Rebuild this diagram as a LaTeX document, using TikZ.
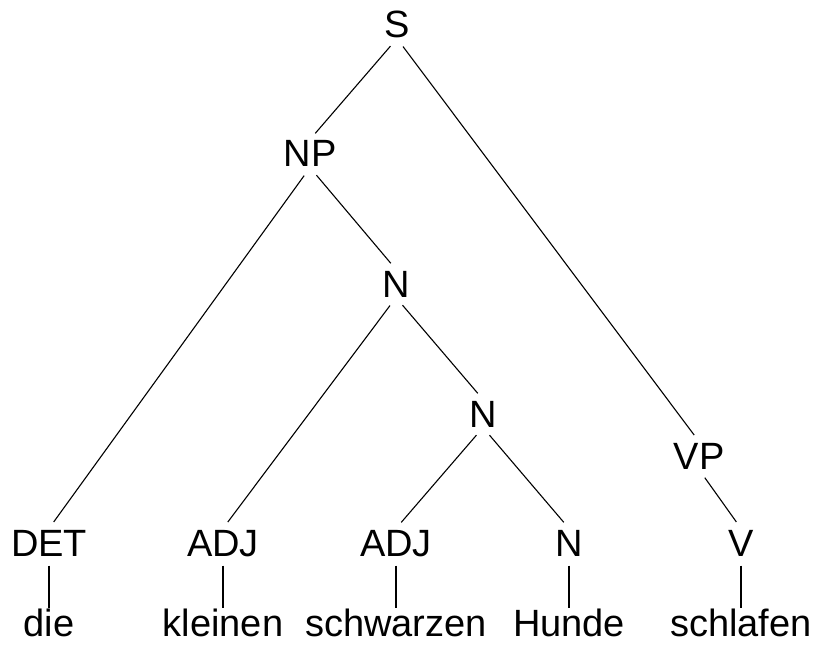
\documentclass[tikz,border=0pt]{standalone}
\usepackage{fontspec}
\setmainfont{Liberation Sans}
\usetikzlibrary{positioning}

\begin{document}
\begin{tikzpicture}[x=1pt,y=-1pt,line width=1.1pt,node distance=52pt]
	\tikzstyle{every node}=[font=\fontsize{38}{40}\selectfont,inner sep=0pt,
		text height=27pt,text depth=0pt,anchor=base]
	\tikzstyle{branch}=[shorten <=10pt,shorten >=8pt]
	\tikzstyle{leaf}=[line width=2.2pt,shorten <=9pt,shorten >=1pt]
	\useasboundingbox (0,0) rectangle (816,647);
	
	\node (s) at (397,38) {S};
	\node (np) at (310,167) {NP};
	\node (n1) at (396,297) {N};
	\node (n2) at (483,427) {N};
	\node (vp) at (699,469) {VP};
	\node (det) at (49,556) {DET};
	\node (adj1) at (223,556) {ADJ};
	\node (adj2) at (396,556) {ADJ};
	\node (n3) at (569,556) {N};
	\node (v) at (741,556) {V};
	\node (w1) [below=of det] {die};
	\node (w2) [below=of adj1] {kleinen};
	\node (w3) [below=of adj2] {schwarzen};
	\node (w4) [below=of n3] {Hunde};
	\node (w5) [below=of v] {schlafen};
	
	\path[branch]
	(s.south) edge (np.north)
	(s.south) edge (vp.north)
	(np.south) edge (det.north)
	(np.south) edge (n1.north)
	(n1.south) edge (adj1.north)
	(n1.south) edge (n2.north)
	(n2.south) edge (adj2.north)
	(n2.south) edge (n3.north)
	(vp.south) edge (v.north)
	;
	% word under each category
	\foreach \c/\w in {det/w1,adj1/w2,adj2/w3,n3/w4,v/w5}
		\draw[leaf] (\c.south) -- (\w.north);
\end{tikzpicture}
\end{document}
